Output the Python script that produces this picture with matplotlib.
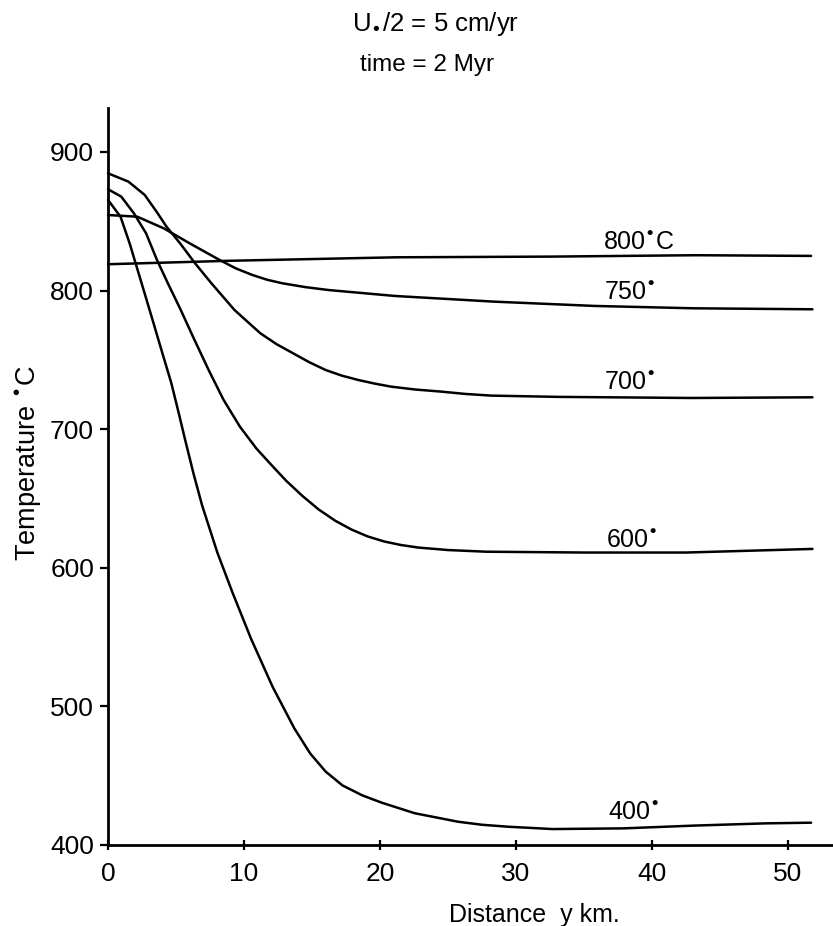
import matplotlib
matplotlib.use("Agg")
import matplotlib.pyplot as plt

plt.rcParams["font.family"] = ["Liberation Sans", "DejaVu Sans"]

# Curves: distance (km) and temperature (deg C)
dist_800 = [0, 9.0, 21.2, 32.6, 43.2, 51.7]
temp_800 = [819, 821.5, 824, 824.5, 825.5, 825]

dist_750 = [0, 2.15, 4.1, 6.0, 8.2, 9.4, 10.6, 11.7, 12.8, 14.5, 16.2, 21.1, 28.4,
            35.8, 43.1, 51.8]
temp_750 = [854.5, 853.3, 844.9, 834.1, 822.1, 816.0, 811.3, 807.8, 805.3, 802.5,
            800.4, 796.1, 792.0, 788.9, 787.2, 786.5]

dist_700 = [0, 1.5, 2.7, 3.6, 4.3, 5.3, 6.4, 7.6, 9.3, 11.2, 12.4, 13.6, 14.8, 16.0,
            17.2, 18.4, 19.6, 20.8, 22.6, 24.5, 26.3, 28.2, 33.1, 38.0, 42.9, 51.8]
temp_700 = [884.6, 878.6, 869.0, 856.5, 846.1, 834.1, 819.7, 805.3, 786.0, 769.2,
            761.3, 754.8, 748.3, 742.7, 738.6, 735.5, 732.9, 730.7, 728.6, 727.1,
            725.4, 724.2, 723.3, 722.9, 722.5, 723.0]

dist_600 = [0, 0.97, 1.9, 2.8, 3.6, 4.4, 5.35, 6.25, 7.4, 8.5, 9.7, 10.9, 11.9,
            13.1, 14.3, 15.5, 16.7, 17.9, 19.1, 20.3, 21.5, 22.8, 25.0, 27.8, 35.0,
            42.5, 51.8]
temp_600 = [873.1, 867.8, 855.8, 841.3, 822.1, 805.3, 786.0, 766.7, 742.7, 721.1,
            701.8, 686.2, 675.4, 662.8, 651.8, 642.0, 634.0, 627.6, 622.6, 619.0,
            616.5, 614.6, 612.8, 611.6, 611.0, 611.0, 613.6]

dist_400 = [0, 0.92, 1.59, 2.03, 2.69, 3.35, 4.0, 4.66, 5.24, 5.68, 6.3, 6.92, 8.04,
            9.16, 10.51, 12.11, 13.71, 14.87, 16.0, 17.24, 18.7, 20.14, 22.56, 25.73,
            27.5, 29.39, 32.7, 37.9, 43.1, 48.3, 51.7]
temp_400 = [865.4, 853.3, 834.1, 819.7, 798.1, 776.4, 754.8, 733.1, 710.0, 692.0,
            667.5, 645.0, 611.0, 582.0, 549.0, 514.0, 484.0, 466.0, 453.0, 443.0,
            435.8, 430.5, 422.9, 416.8, 414.6, 413.2, 411.5, 412.0, 414.0, 415.6, 416.1]

curve_labels = ["800", "750", "700", "600", "400"]
label_x = [36.4, 36.5, 36.5, 36.6, 36.8]
label_y = [829.3, 793.2, 728.3, 614.3, 418.0]

x_ticks = [0, 10, 20, 30, 40, 50]
y_ticks = [400, 500, 600, 700, 800, 900]

DOT = "\u2022"

fig = plt.figure(figsize=(8.33, 9.26), dpi=100)
ax = fig.add_axes([108 / 833, 81 / 926, 723.5 / 833, 737.4 / 926])

for d, t in [(dist_800, temp_800), (dist_750, temp_750), (dist_700, temp_700),
             (dist_600, temp_600), (dist_400, temp_400)]:
    ax.plot(d, t, color="black", lw=1.8, solid_capstyle="round",
            solid_joinstyle="round", clip_on=False)

# curve labels with the raised dot
for lab, lx, ly in zip(curve_labels, label_x, label_y):
    txt = lab + "$^{" + DOT + "}$"
    if lab == "800":
        txt += "C"
    ax.text(lx, ly, txt, fontsize=18, ha="left", va="baseline")

ax.set_xlim(0, 53.2)
ax.set_ylim(400, 932)
ax.set_xticks(x_ticks)
ax.set_yticks(y_ticks)
for s in ["top", "right"]:
    ax.spines[s].set_visible(False)
for s in ["left", "bottom"]:
    ax.spines[s].set_linewidth(2.0)
ax.tick_params(axis="y", direction="out", length=6, width=1.6, pad=4, labelsize=19)
ax.tick_params(axis="x", direction="inout", length=7, width=1.6, pad=9, labelsize=19)

ax.set_xlabel("Distance  y km.", fontsize=18)
ax.xaxis.set_label_coords(0.59, -0.079)
ax.set_ylabel("Temperature $^{" + DOT + "}$C", fontsize=19.5)
ax.yaxis.set_label_coords(-0.088, 0.518)

fig.text(436 / 833, 1 - 24 / 926, "U$_{" + DOT + "}$/2 = 5 cm/yr",
         fontsize=18.5, ha="center", va="center")
fig.text(427 / 833, 1 - 65 / 926, "time = 2 Myr",
         fontsize=17.5, ha="center", va="center")

fig.savefig("out.png", dpi=100, facecolor="white")
